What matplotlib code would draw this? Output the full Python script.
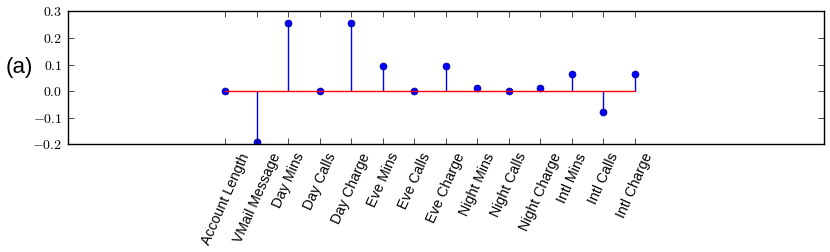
import matplotlib
matplotlib.use("Agg")
import matplotlib.pyplot as plt
from matplotlib.ticker import FuncFormatter

features = ["Account Length", "VMail Message", "Day Mins", "Day Calls", "Day Charge",
            "Eve Mins", "Eve Calls", "Eve Charge", "Night Mins", "Night Calls",
            "Night Charge", "Intl Mins", "Intl Calls", "Intl Charge"]
weights = [0.0, -0.193, 0.258, 0.0, 0.258, 0.095, 0.0, 0.095, 0.0125, 0.0,
           0.0125, 0.064, -0.079, 0.064]

plt.style.use("classic")
plt.rcParams["mathtext.fontset"] = "cm"
plt.rcParams["font.family"] = ["Liberation Sans", "DejaVu Sans"]

fig = plt.figure(figsize=(8.3, 2.53), dpi=100)
ax = fig.add_axes([0.0816, 0.4257, 0.9112, 0.5253])

x = list(range(len(features)))
markers, stems, base = ax.stem(x, weights, linefmt="b-", markerfmt="bo", basefmt="r-")
plt.setp(markers, markersize=5, markeredgecolor="#000080")
plt.setp(stems, linewidth=1)
plt.setp(base, linewidth=1)

ax.set_xlim(-5, 19)
ax.set_ylim(-0.2, 0.3)
ax.set_xticks(x)
ax.set_xticklabels(features, rotation=66, ha="center", fontsize=10.2)
ax.set_yticks([-0.2, -0.1, 0.0, 0.1, 0.2, 0.3])
ax.yaxis.set_major_formatter(FuncFormatter(lambda v, p: "$%.1f$" % v))
ax.tick_params(axis="y", labelsize=10)

fig.text(0.007, 0.733, "(a)", fontsize=16, va="center")

fig.savefig("out.png", dpi=100)
